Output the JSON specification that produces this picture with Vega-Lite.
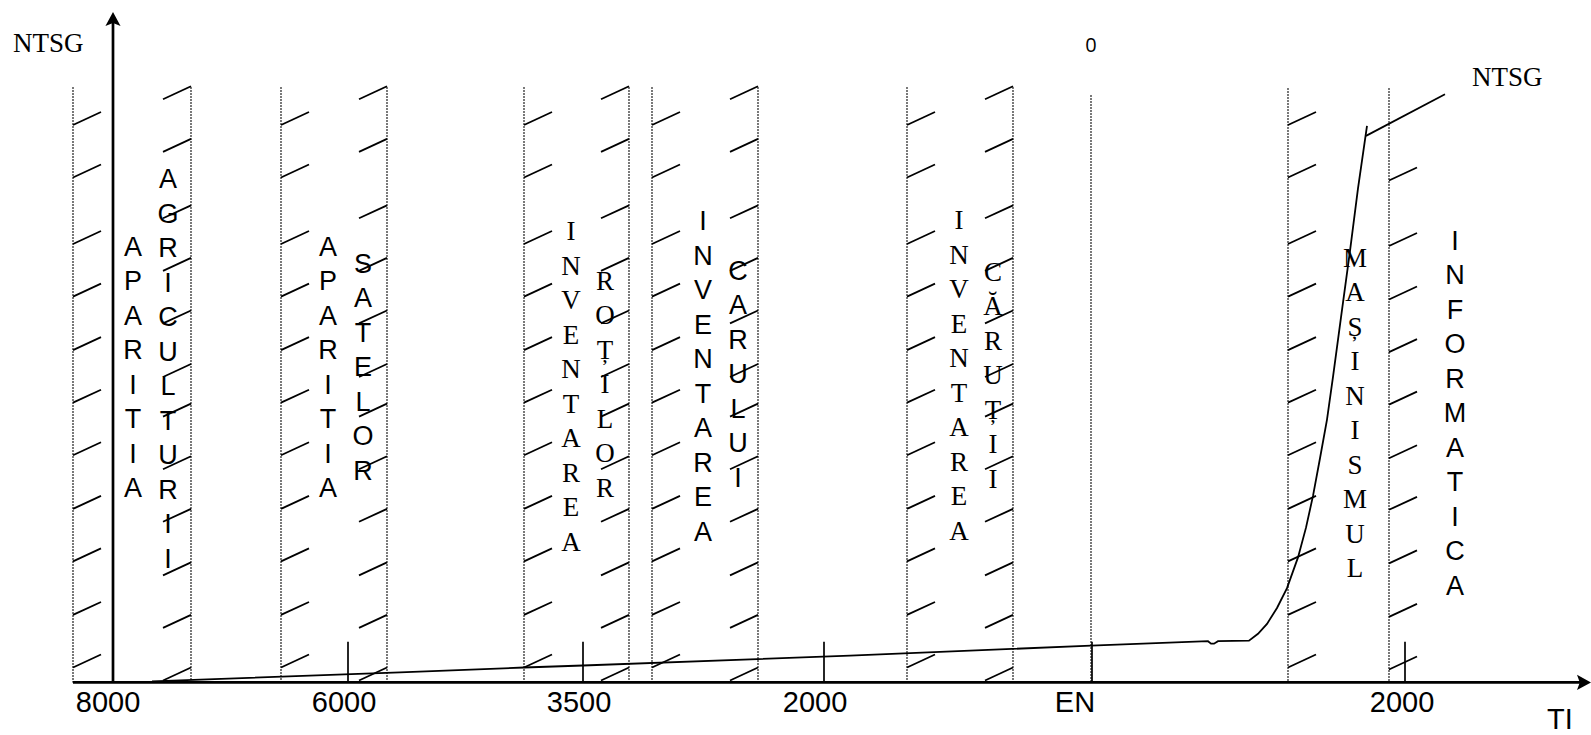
{
  "$schema": "https://vega.github.io/schema/vega-lite/v6.json",
  "width": 1591,
  "height": 735,
  "autosize": {"type": "fit", "contains": "padding"},
  "padding": 0,
  "background": "white",
  "config": {"view": {"stroke": null}},
  "datasets": {
    "dotted": [
      {"x": 73, "y": 88, "y2": 688}, {"x": 191, "y": 88, "y2": 688},
      {"x": 281, "y": 88, "y2": 688}, {"x": 387, "y": 88, "y2": 688},
      {"x": 524, "y": 88, "y2": 688}, {"x": 629, "y": 88, "y2": 688},
      {"x": 652, "y": 88, "y2": 688}, {"x": 758, "y": 88, "y2": 688},
      {"x": 907, "y": 88, "y2": 688}, {"x": 1013, "y": 88, "y2": 688},
      {"x": 1091, "y": 96, "y2": 688},
      {"x": 1288, "y": 89, "y2": 688}, {"x": 1389, "y": 89, "y2": 688}
    ],
    "hatchL": [
      {"x": 73, "y": 126}, {"x": 73, "y": 179}, {"x": 73, "y": 246}, {"x": 73, "y": 299}, {"x": 73, "y": 353}, {"x": 73, "y": 406}, {"x": 73, "y": 459}, {"x": 73, "y": 513}, {"x": 73, "y": 566}, {"x": 73, "y": 620}, {"x": 73, "y": 673},
      {"x": 281, "y": 126}, {"x": 281, "y": 179}, {"x": 281, "y": 246}, {"x": 281, "y": 299}, {"x": 281, "y": 353}, {"x": 281, "y": 406}, {"x": 281, "y": 459}, {"x": 281, "y": 513}, {"x": 281, "y": 566}, {"x": 281, "y": 620}, {"x": 281, "y": 673},
      {"x": 524, "y": 126}, {"x": 524, "y": 179}, {"x": 524, "y": 246}, {"x": 524, "y": 299}, {"x": 524, "y": 353}, {"x": 524, "y": 406}, {"x": 524, "y": 459}, {"x": 524, "y": 513}, {"x": 524, "y": 566}, {"x": 524, "y": 620}, {"x": 524, "y": 673},
      {"x": 652, "y": 126}, {"x": 652, "y": 179}, {"x": 652, "y": 246}, {"x": 652, "y": 299}, {"x": 652, "y": 353}, {"x": 652, "y": 406}, {"x": 652, "y": 459}, {"x": 652, "y": 513}, {"x": 652, "y": 566}, {"x": 652, "y": 620}, {"x": 652, "y": 673},
      {"x": 907, "y": 126}, {"x": 907, "y": 179}, {"x": 907, "y": 246}, {"x": 907, "y": 299}, {"x": 907, "y": 353}, {"x": 907, "y": 406}, {"x": 907, "y": 459}, {"x": 907, "y": 513}, {"x": 907, "y": 566}, {"x": 907, "y": 620}, {"x": 907, "y": 673},
      {"x": 1288, "y": 126}, {"x": 1288, "y": 179}, {"x": 1288, "y": 246}, {"x": 1288, "y": 299}, {"x": 1288, "y": 353}, {"x": 1288, "y": 406}, {"x": 1288, "y": 459}, {"x": 1288, "y": 513}, {"x": 1288, "y": 566}, {"x": 1288, "y": 620}, {"x": 1288, "y": 673},
      {"x": 1389, "y": 182}, {"x": 1389, "y": 248}, {"x": 1389, "y": 302}, {"x": 1389, "y": 355}, {"x": 1389, "y": 408}, {"x": 1389, "y": 462}, {"x": 1389, "y": 514}, {"x": 1389, "y": 568}, {"x": 1389, "y": 622}, {"x": 1389, "y": 675}
    ],
    "hatchR": [
      {"x": 191, "y": 87}, {"x": 191, "y": 140}, {"x": 191, "y": 207}, {"x": 191, "y": 260}, {"x": 191, "y": 313}, {"x": 191, "y": 367}, {"x": 191, "y": 407}, {"x": 191, "y": 460}, {"x": 191, "y": 513}, {"x": 191, "y": 567}, {"x": 191, "y": 620}, {"x": 191, "y": 673},
      {"x": 387, "y": 87}, {"x": 387, "y": 140}, {"x": 387, "y": 207}, {"x": 387, "y": 260}, {"x": 387, "y": 313}, {"x": 387, "y": 367}, {"x": 387, "y": 407}, {"x": 387, "y": 460}, {"x": 387, "y": 513}, {"x": 387, "y": 567}, {"x": 387, "y": 620}, {"x": 387, "y": 673},
      {"x": 629, "y": 87}, {"x": 629, "y": 140}, {"x": 629, "y": 207}, {"x": 629, "y": 260}, {"x": 629, "y": 313}, {"x": 629, "y": 367}, {"x": 629, "y": 407}, {"x": 629, "y": 460}, {"x": 629, "y": 513}, {"x": 629, "y": 567}, {"x": 629, "y": 620}, {"x": 629, "y": 673},
      {"x": 758, "y": 87}, {"x": 758, "y": 140}, {"x": 758, "y": 207}, {"x": 758, "y": 260}, {"x": 758, "y": 313}, {"x": 758, "y": 367}, {"x": 758, "y": 407}, {"x": 758, "y": 460}, {"x": 758, "y": 513}, {"x": 758, "y": 567}, {"x": 758, "y": 620}, {"x": 758, "y": 673},
      {"x": 1013, "y": 87}, {"x": 1013, "y": 140}, {"x": 1013, "y": 207}, {"x": 1013, "y": 260}, {"x": 1013, "y": 313}, {"x": 1013, "y": 367}, {"x": 1013, "y": 407}, {"x": 1013, "y": 460}, {"x": 1013, "y": 513}, {"x": 1013, "y": 567}, {"x": 1013, "y": 620}, {"x": 1013, "y": 673}
    ],
    "axes": [
      {"x": 73, "y": 688, "x2": 1582, "y2": 688},
      {"x": 113, "y": 688, "x2": 113, "y2": 22}
    ],
    "ticks": [
      {"x": 348, "y": 647, "x2": 348, "y2": 688},
      {"x": 583, "y": 647, "x2": 583, "y2": 688},
      {"x": 824, "y": 647, "x2": 824, "y2": 688},
      {"x": 1092, "y": 647, "x2": 1092, "y2": 688},
      {"x": 1405, "y": 647, "x2": 1405, "y2": 688}
    ],
    "curve": [
      {"s": "a", "i": 1, "x": 152, "y": 687},
      {"s": "a", "i": 2, "x": 400, "y": 678},
      {"s": "a", "i": 3, "x": 524, "y": 673},
      {"s": "a", "i": 4, "x": 583, "y": 671},
      {"s": "a", "i": 5, "x": 850, "y": 661},
      {"s": "a", "i": 6, "x": 1091, "y": 651},
      {"s": "a", "i": 7, "x": 1208, "y": 646.5},
      {"s": "a", "i": 8, "x": 1211, "y": 649},
      {"s": "a", "i": 9, "x": 1214, "y": 649},
      {"s": "a", "i": 10, "x": 1218, "y": 646.5},
      {"s": "a", "i": 11, "x": 1249, "y": 646},
      {"s": "a", "i": 12, "x": 1258, "y": 639},
      {"s": "a", "i": 13, "x": 1267, "y": 629},
      {"s": "a", "i": 14, "x": 1277, "y": 613},
      {"s": "a", "i": 15, "x": 1287, "y": 593},
      {"s": "a", "i": 16, "x": 1298, "y": 562},
      {"s": "a", "i": 17, "x": 1306, "y": 532},
      {"s": "a", "i": 18, "x": 1313, "y": 500},
      {"s": "a", "i": 19, "x": 1320, "y": 462},
      {"s": "a", "i": 20, "x": 1327, "y": 423},
      {"s": "a", "i": 21, "x": 1333, "y": 380},
      {"s": "a", "i": 22, "x": 1341, "y": 320},
      {"s": "a", "i": 23, "x": 1350, "y": 253},
      {"s": "a", "i": 24, "x": 1358, "y": 190},
      {"s": "a", "i": 25, "x": 1367, "y": 127},
      {"s": "b", "i": 1, "x": 1366, "y": 137},
      {"s": "b", "i": 2, "x": 1445, "y": 95}
    ],
    "arrowUp": [{"x": 113, "y": 12}],
    "arrowRight": [{"x": 1591, "y": 688}],
    "sansCols": [
      {"x": 133, "y": 258, "t": "A\nP\nA\nR\nI\nT\nI\nA"},
      {"x": 168, "y": 190, "t": "A\nG\nR\nI\nC\nU\nL\nT\nU\nR\nI\nI"},
      {"x": 328, "y": 258, "t": "A\nP\nA\nR\nI\nT\nI\nA"},
      {"x": 363, "y": 275, "t": "S\nA\nT\nE\nL\nO\nR"},
      {"x": 703, "y": 232, "t": "I\nN\nV\nE\nN\nT\nA\nR\nE\nA"},
      {"x": 738, "y": 282, "t": "C\nA\nR\nU\nL\nU\nI"},
      {"x": 1455, "y": 252, "t": "I\nN\nF\nO\nR\nM\nA\nT\nI\nC\nA"}
    ],
    "serifCols": [
      {"x": 571, "y": 242, "t": "I\nN\nV\nE\nN\nT\nA\nR\nE\nA"},
      {"x": 605, "y": 292, "t": "R\nO\nȚ\nI\nL\nO\nR"},
      {"x": 959, "y": 231, "t": "I\nN\nV\nE\nN\nT\nA\nR\nE\nA"},
      {"x": 993, "y": 283, "t": "C\nĂ\nR\nU\nȚ\nI\nI"},
      {"x": 1355, "y": 269, "t": "M\nA\nȘ\nI\nN\nI\nS\nM\nU\nL"}
    ],
    "axisLabels": [
      {"x": 108, "y": 718, "t": "8000"},
      {"x": 344, "y": 718, "t": "6000"},
      {"x": 579, "y": 718, "t": "3500"},
      {"x": 815, "y": 718, "t": "2000"},
      {"x": 1075, "y": 718, "t": "EN"},
      {"x": 1402, "y": 718, "t": "2000"}
    ],
    "tiLabel": [{"x": 1547, "y": 735, "t": "TI"}],
    "ntsg": [
      {"x": 13, "y": 52, "t": "NTSG"},
      {"x": 1472, "y": 87, "t": "NTSG"}
    ],
    "zero": [{"x": 1091, "y": 52, "t": "0"}]
  },
  "encoding": {
    "x": {"field": "x", "type": "quantitative", "scale": {"domain": [0, 1591], "nice": false, "zero": false}, "axis": null},
    "y": {"field": "y", "type": "quantitative", "scale": {"domain": [0, 735], "nice": false, "zero": false, "reverse": true}, "axis": null}
  },
  "layer": [
    {
      "data": {"name": "dotted"},
      "mark": {"type": "rule", "color": "black", "strokeWidth": 1.4, "strokeDash": [1.5, 1.5]},
      "encoding": {"y2": {"field": "y2"}}
    },
    {
      "data": {"name": "hatchL"},
      "mark": {"type": "point", "shape": "M0,0L1,-0.464", "size": 3136, "filled": false, "color": "black", "strokeWidth": 1.8, "opacity": 1}
    },
    {
      "data": {"name": "hatchR"},
      "mark": {"type": "point", "shape": "M-1,0.464L0,0", "size": 3136, "filled": false, "color": "black", "strokeWidth": 1.8, "opacity": 1}
    },
    {
      "data": {"name": "axes"},
      "mark": {"type": "rule", "color": "black", "strokeWidth": 2.7},
      "encoding": {"x2": {"field": "x2"}, "y2": {"field": "y2"}}
    },
    {
      "data": {"name": "ticks"},
      "mark": {"type": "rule", "color": "black", "strokeWidth": 1.7},
      "encoding": {"x2": {"field": "x2"}, "y2": {"field": "y2"}}
    },
    {
      "data": {"name": "curve"},
      "mark": {"type": "line", "color": "black", "strokeWidth": 1.8},
      "encoding": {"detail": {"field": "s"}, "order": {"field": "i", "type": "quantitative"}}
    },
    {
      "data": {"name": "arrowUp"},
      "mark": {"type": "point", "shape": "M0,0L0.54,1L0,0.8L-0.54,1Z", "size": 784, "filled": true, "color": "black", "opacity": 1, "strokeWidth": 0}
    },
    {
      "data": {"name": "arrowRight"},
      "mark": {"type": "point", "shape": "M0,0L-1,0.54L-0.8,0L-1,-0.54Z", "size": 784, "filled": true, "color": "black", "opacity": 1, "strokeWidth": 0}
    },
    {
      "data": {"name": "sansCols"},
      "mark": {"type": "text", "font": "Liberation Sans", "fontSize": 27, "lineHeight": 34.5, "lineBreak": "\n", "align": "center", "baseline": "alphabetic", "color": "black"},
      "encoding": {"text": {"field": "t"}}
    },
    {
      "data": {"name": "serifCols"},
      "mark": {"type": "text", "font": "Liberation Serif", "fontSize": 27, "lineHeight": 34.5, "lineBreak": "\n", "align": "center", "baseline": "alphabetic", "color": "black"},
      "encoding": {"text": {"field": "t"}}
    },
    {
      "data": {"name": "axisLabels"},
      "mark": {"type": "text", "font": "Liberation Sans", "fontSize": 29, "align": "center", "baseline": "alphabetic", "color": "black"},
      "encoding": {"text": {"field": "t"}}
    },
    {
      "data": {"name": "tiLabel"},
      "mark": {"type": "text", "font": "Liberation Sans", "fontSize": 29, "align": "left", "baseline": "alphabetic", "color": "black"},
      "encoding": {"text": {"field": "t"}}
    },
    {
      "data": {"name": "ntsg"},
      "mark": {"type": "text", "font": "Liberation Serif", "fontSize": 27, "align": "left", "baseline": "alphabetic", "color": "black"},
      "encoding": {"text": {"field": "t"}}
    },
    {
      "data": {"name": "zero"},
      "mark": {"type": "text", "font": "Open Sans", "fontSize": 20, "align": "center", "baseline": "alphabetic", "color": "black"},
      "encoding": {"text": {"field": "t"}}
    }
  ]
}
